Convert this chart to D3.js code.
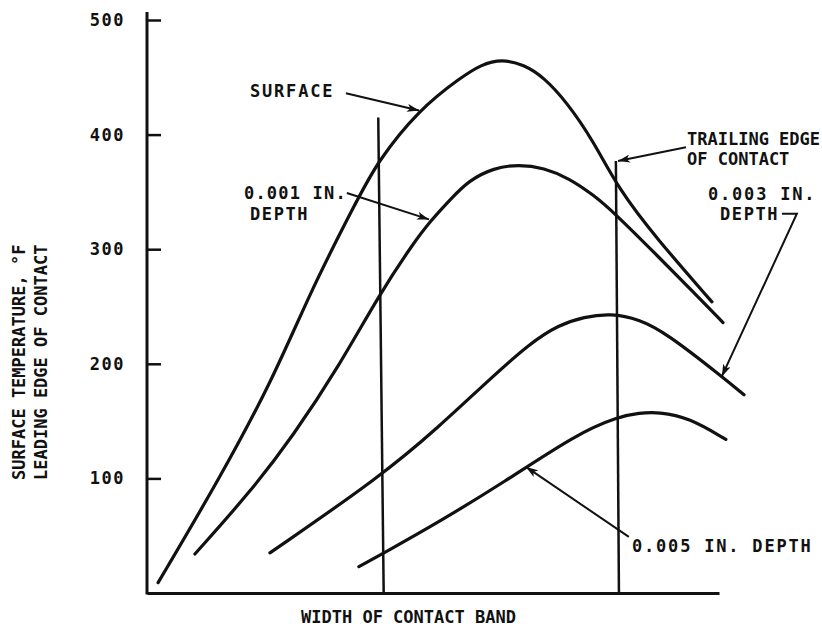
<!DOCTYPE html>
<html>
<head>
<meta charset="utf-8">
<script src="https://cdn.jsdelivr.net/npm/d3@7"></script>
<style>
  body { margin: 0; background: #fff; }
  svg text { font-family: "DejaVu Sans Mono", "Liberation Mono", monospace; font-weight: bold; fill: #111; }
</style>
</head>
<body>
<svg id="chart" width="822" height="632"></svg>
<script>
// --- data (x: contact band position, leading edge = 0, trailing edge = 1; y: deg F) ---
const yTicks = [100, 200, 300, 400, 500];

const surface = [
  [-0.953, 9], [-0.695, 99], [-0.470, 185], [-0.301, 266], [-0.114, 341],
  [-0.025, 376], [0.153, 422], [0.331, 450], [0.415, 461], [0.504, 466],
  [0.597, 461], [0.682, 450], [0.780, 428], [0.890, 395], [1.0, 352],
  [1.157, 310], [1.394, 254]
];
const depth001 = [
  [-0.797, 34], [-0.559, 89], [-0.381, 137], [-0.186, 198], [-0.017, 260],
  [0.131, 306], [0.203, 325], [0.288, 344], [0.364, 360], [0.470, 371],
  [0.576, 374], [0.682, 371], [0.788, 362], [0.894, 347], [0.979, 332],
  [1.169, 293], [1.314, 263], [1.441, 236]
];
const depth003 = [
  [-0.479, 35], [-0.008, 102], [0.237, 145], [0.449, 186], [0.623, 218],
  [0.746, 234], [0.852, 241], [0.966, 244], [1.085, 239], [1.199, 227],
  [1.436, 189], [1.530, 173]
];
const depth005 = [
  [-0.102, 23], [0.004, 35], [0.237, 62], [0.508, 96], [0.822, 139],
  [1.0, 154], [1.085, 157], [1.169, 158], [1.297, 153], [1.453, 134]
];

// contact edges
const leadingEdge = [[-0.02, 415], [0.003, 0]];
const trailingEdge = [[0.987, 377], [1.0, 0]];

// callout arrows (from label to curve)
const arrows = [
  [[-0.157, 436], [0.153, 421]],
  [[-0.153, 349], [0.195, 326]],
  [[1.284, 389], [0.996, 377]],
  [[1.691, 331], [1.754, 331], [1.436, 189]],
  [[1.042, 49], [0.606, 110]]
];

const svg = d3.select("#chart");
const margin = { left: 147, right: 103, top: 20, bottom: 39 };
const W = 822, H = 632;

const x = d3.scaleLinear().domain([-1, 1.424]).range([margin.left, W - margin.right]);
const y = d3.scaleLinear().domain([0, 500]).range([H - margin.bottom, margin.top]);

// arrowhead
svg.append("defs").append("marker")
    .attr("id", "head")
    .attr("markerUnits", "userSpaceOnUse")
    .attr("viewBox", "0 0 12 8")
    .attr("refX", 12).attr("refY", 4)
    .attr("markerWidth", 13).attr("markerHeight", 8)
    .attr("orient", "auto")
  .append("path")
    .attr("d", "M0,0 L12,4 L0,8 L3,4 Z")
    .attr("fill", "#111");

// --- axes ---
const yAxis = d3.axisLeft(y).tickValues(yTicks).tickSizeInner(-14).tickSizeOuter(0).tickPadding(22);
const gy = svg.append("g").attr("transform", `translate(${margin.left},0)`).call(yAxis);
gy.select(".domain").remove();
gy.selectAll(".tick line").attr("stroke", "#111").attr("stroke-width", 2.5);
gy.selectAll(".tick text")
    .style("font-size", "17px")
    .style("letter-spacing", "1.5px")
    .attr("fill", "#111");

svg.append("line")
    .attr("x1", x(-1)).attr("x2", x(-1))
    .attr("y1", y(0) + 1.5).attr("y2", y(500) - 8)
    .attr("stroke", "#111").attr("stroke-width", 3);

const gx = svg.append("g").attr("transform", `translate(0,${y(0)})`)
    .call(d3.axisBottom(x).tickValues([]).tickSizeOuter(0));
gx.select(".domain").attr("stroke", "#111").attr("stroke-width", 3);

// --- edge lines ---
const straight = d3.line().x(d => x(d[0])).y(d => y(d[1]));
[leadingEdge, trailingEdge].forEach(e => {
  svg.append("path").attr("d", straight(e))
      .attr("fill", "none").attr("stroke", "#111").attr("stroke-width", 2.5);
});

// --- curves ---
const curve = d3.line().x(d => x(d[0])).y(d => y(d[1])).curve(d3.curveBasis);
[surface, depth001, depth003, depth005].forEach(s => {
  svg.append("path").attr("d", curve(s))
      .attr("fill", "none").attr("stroke", "#111")
      .attr("stroke-width", 3.2).attr("stroke-linecap", "round");
});

// --- callout arrows ---
arrows.forEach(a => {
  svg.append("path").attr("d", straight(a))
      .attr("fill", "none").attr("stroke", "#111").attr("stroke-width", 2)
      .attr("marker-end", "url(#head)");
});

// --- labels ---
const labels = [
  { t: "SURFACE", x: 250, y: 97, ls: 1.8 },
  { t: "0.001 IN.", x: 244, y: 199, ls: 1.2 },
  { t: "DEPTH", x: 250, y: 220, ls: 1.6 },
  { t: "TRAILING EDGE", x: 687, y: 145, ls: 0 },
  { t: "OF CONTACT", x: 687, y: 165, ls: 0 },
  { t: "0.003 IN.", x: 708, y: 200, ls: 1.8 },
  { t: "DEPTH", x: 720, y: 220, ls: 1.6 },
  { t: "0.005 IN. DEPTH", x: 632, y: 552, ls: 1.8 },
  { t: "WIDTH OF CONTACT BAND", x: 301, y: 623, ls: 0 }
];
svg.selectAll("text.lbl").data(labels).enter().append("text")
    .attr("class", "lbl")
    .attr("x", d => d.x).attr("y", d => d.y)
    .style("font-size", "17px")
    .style("letter-spacing", d => d.ls + "px")
    .text(d => d.t);

// y-axis title (two lines, rotated)
const yTitle = ["SURFACE TEMPERATURE, °F", "LEADING EDGE OF CONTACT"];
svg.selectAll("text.ytitle").data(yTitle).enter().append("text")
    .attr("class", "ytitle")
    .attr("transform", (d, i) => `translate(${25 + i * 22},480) rotate(-90)`)
    .style("font-size", "17px")
    .text(d => d);
</script>
</body>
</html>
